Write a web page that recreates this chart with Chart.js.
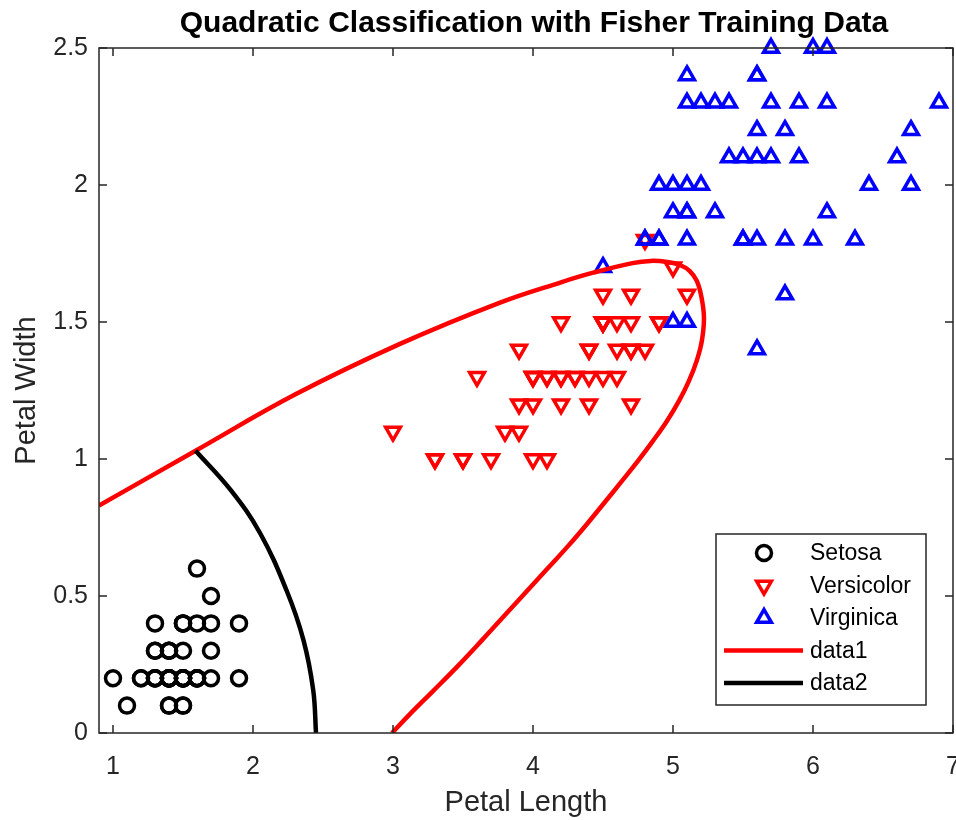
<!DOCTYPE html>
<html>
<head>
<meta charset="utf-8">
<script src="https://cdn.jsdelivr.net/npm/chart.js"></script>
<style>
  html, body { margin: 0; padding: 0; background: #fff; overflow: hidden; }
  #wrap { width: 956px; height: 820px; }
</style>
</head>
<body>
<div id="wrap"><canvas id="myChart" width="956" height="820"></canvas></div>
<script>
// Fisher iris petal measurements
const setosaPL = [1.4,1.4,1.3,1.5,1.4,1.7,1.4,1.5,1.4,1.5,1.5,1.6,1.4,1.1,1.2,1.5,1.3,1.4,1.7,1.5,1.7,1.5,1.0,1.7,1.9,1.6,1.6,1.5,1.4,1.6,1.6,1.5,1.5,1.4,1.5,1.2,1.3,1.4,1.3,1.5,1.3,1.3,1.3,1.6,1.9,1.4,1.6,1.4,1.5,1.4];
const setosaPW = [0.2,0.2,0.2,0.2,0.2,0.4,0.3,0.2,0.2,0.1,0.2,0.2,0.1,0.1,0.2,0.4,0.4,0.3,0.3,0.3,0.2,0.4,0.2,0.5,0.2,0.2,0.4,0.2,0.2,0.2,0.2,0.4,0.1,0.2,0.2,0.2,0.2,0.1,0.2,0.2,0.3,0.3,0.2,0.6,0.4,0.3,0.2,0.2,0.2,0.2];

const versicolorPL = [4.7,4.5,4.9,4.0,4.6,4.5,4.7,3.3,4.6,3.9,3.5,4.2,4.0,4.7,3.6,4.4,4.5,4.1,4.5,3.9,4.8,4.0,4.9,4.7,4.3,4.4,4.8,5.0,4.5,3.5,3.8,3.7,3.9,5.1,4.5,4.5,4.7,4.4,4.1,4.0,4.4,4.6,4.0,3.3,4.2,4.2,4.2,4.3,3.0,4.1];
const versicolorPW = [1.4,1.5,1.5,1.3,1.5,1.3,1.6,1.0,1.3,1.4,1.0,1.5,1.0,1.4,1.3,1.4,1.5,1.0,1.5,1.1,1.8,1.3,1.5,1.2,1.3,1.4,1.4,1.7,1.5,1.0,1.1,1.0,1.2,1.6,1.5,1.6,1.5,1.3,1.3,1.3,1.2,1.4,1.2,1.0,1.3,1.2,1.3,1.3,1.1,1.3];

const virginicaPL = [6.0,5.1,5.9,5.6,5.8,6.6,4.5,6.3,5.8,6.1,5.1,5.3,5.5,5.0,5.1,5.3,5.5,6.7,6.9,5.0,5.7,4.9,6.7,4.9,5.7,6.0,4.8,4.9,5.6,5.8,6.1,6.4,5.6,5.1,5.6,6.1,5.6,5.5,4.8,5.4,5.6,5.1,5.1,5.9,5.7,5.2,5.0,5.2,5.4,5.1];
const virginicaPW = [2.5,1.9,2.1,1.8,2.2,2.1,1.7,1.8,1.8,2.5,2.0,1.9,2.1,2.0,2.4,2.3,1.8,2.2,2.3,1.5,2.3,2.0,2.0,1.8,2.1,1.8,1.8,1.8,2.1,1.6,1.9,2.0,2.2,1.5,1.4,2.3,2.4,1.8,1.8,2.1,2.4,2.3,1.9,2.3,2.5,2.3,1.9,2.0,2.3,1.8];

// decision boundaries
const data1X = [0.9,1.59,2.3,3.05,3.76,4.2,4.43,4.71,4.84,4.96,5.05,5.12,5.17,5.2,5.221,5.207,5.171,5.114,5.043,4.957,4.857,4.75,4.636,4.514,4.386,4.25,4.107,3.957,3.8,3.636,3.464,3.286,3.121,2.993];
const data1Y = [0.83,1.03,1.235,1.42,1.57,1.645,1.68,1.715,1.723,1.719,1.708,1.686,1.65,1.599,1.518,1.434,1.361,1.285,1.212,1.139,1.066,0.993,0.92,0.843,0.763,0.682,0.602,0.518,0.431,0.339,0.245,0.153,0.069,0];
const data2X = [1.59,1.84,2.05,2.24,2.36,2.43,2.45];
const data2Y = [1.03,0.887,0.73,0.52,0.34,0.157,0];

const xTicks = [1,2,3,4,5,6,7];
const yTicks = [0,0.5,1,1.5,2,2.5];
const yTickLabels = ['0','0.5','1','1.5','2','2.5'];

const pts = (xs, ys) => xs.map((x, i) => ({ x: x, y: ys[i] }));

const FONT = '"Liberation Sans", Arial, sans-serif';
const AXIS = '#262626';

// MATLAB style box, inward ticks, title and legend
const matlabBox = {
  id: 'matlabBox',
  afterDraw(chart) {
    const ctx = chart.ctx;
    const a = chart.chartArea;
    const xs = chart.scales.x, ys = chart.scales.y;
    ctx.save();
    ctx.strokeStyle = AXIS;
    ctx.lineWidth = 1.5;
    ctx.strokeRect(a.left, a.top, a.right - a.left, a.bottom - a.top);
    ctx.beginPath();
    xTicks.forEach(v => {
      const px = xs.getPixelForValue(v);
      ctx.moveTo(px, a.bottom); ctx.lineTo(px, a.bottom - 8);
      ctx.moveTo(px, a.top); ctx.lineTo(px, a.top + 8);
    });
    yTicks.forEach(v => {
      const py = ys.getPixelForValue(v);
      ctx.moveTo(a.left, py); ctx.lineTo(a.left + 8, py);
      ctx.moveTo(a.right, py); ctx.lineTo(a.right - 8, py);
    });
    ctx.stroke();

    // title
    ctx.fillStyle = '#000';
    ctx.font = 'bold 30px ' + FONT;
    ctx.textAlign = 'center';
    ctx.textBaseline = 'middle';
    ctx.fillText('Quadratic Classification with Fisher Training Data', 534, 24);

    // legend
    const bx = 716, by = 534, bw = 210, bh = 171;
    ctx.fillStyle = '#fff';
    ctx.fillRect(bx, by, bw, bh);
    ctx.strokeStyle = AXIS;
    ctx.lineWidth = 1.5;
    ctx.strokeRect(bx, by, bw, bh);
    ctx.font = '23px ' + FONT;
    ctx.textAlign = 'left';
    chart.data.datasets.forEach((ds, i) => {
      const cy = by + 19 + i * 32.5;
      const cx = 764;
      ctx.strokeStyle = ds.borderColor;
      ctx.lineWidth = ds.borderWidth;
      if (ds.showLine) {
        ctx.beginPath();
        ctx.moveTo(724, cy); ctx.lineTo(803, cy);
        ctx.stroke();
      } else {
        ctx.fillStyle = 'rgba(0,0,0,0)';
        Chart.helpers.drawPoint(ctx, {
          pointStyle: ds.pointStyle,
          rotation: ds.rotation || 0,
          radius: ds.pointRadius,
          borderWidth: ds.borderWidth
        }, cx, cy);
      }
      ctx.fillStyle = '#000';
      ctx.fillText(ds.label, 810, cy + 1);
    });
    ctx.restore();
  }
};

const markerStyle = (color) => ({
  borderColor: color,
  backgroundColor: 'rgba(0,0,0,0)',
  borderWidth: 3.5,
  showLine: false,
  clip: false
});

new Chart(document.getElementById('myChart'), {
  type: 'scatter',
  data: {
    datasets: [
      Object.assign({ label: 'Setosa', data: pts(setosaPL, setosaPW), pointStyle: 'circle', pointRadius: 7.5, order: 4 }, markerStyle('#000000')),
      Object.assign({ label: 'Versicolor', data: pts(versicolorPL, versicolorPW), pointStyle: 'triangle', rotation: 180, pointRadius: 8.5, order: 3 }, markerStyle('#ff0000')),
      Object.assign({ label: 'Virginica', data: pts(virginicaPL, virginicaPW), pointStyle: 'triangle', pointRadius: 8.5, order: 2 }, markerStyle('#0000ff')),
      { label: 'data1', data: pts(data1X, data1Y), showLine: true, borderColor: '#ff0000', borderWidth: 4.5, pointRadius: 0, tension: 0.4, order: 1 },
      { label: 'data2', data: pts(data2X, data2Y), showLine: true, borderColor: '#000000', borderWidth: 4.5, pointRadius: 0, tension: 0.4, order: 0 }
    ]
  },
  options: {
    responsive: false,
    animation: false,
    devicePixelRatio: 1,
    layout: { autoPadding: false, padding: { left: 0, right: 3, top: 48, bottom: 0 } },
    plugins: {
      legend: { display: false },
      title: { display: false },
      tooltip: { enabled: false }
    },
    elements: { point: { hoverRadius: 7 } },
    scales: {
      x: {
        type: 'linear',
        min: 0.9,
        max: 7,
        afterBuildTicks: s => { s.ticks = xTicks.map(v => ({ value: v })); },
        afterFit: s => { s.height = 87; s.paddingLeft = 0; s.paddingRight = 0; },
        grid: { display: false, drawTicks: false },
        border: { display: false },
        ticks: { color: AXIS, font: { family: FONT, size: 25 }, padding: 19 },
        title: { display: true, text: 'Petal Length', color: AXIS, font: { family: FONT, size: 29 }, padding: { top: 0, bottom: 0 } }
      },
      y: {
        type: 'linear',
        min: 0,
        max: 2.5,
        afterBuildTicks: s => { s.ticks = yTicks.map(v => ({ value: v })); },
        afterFit: s => { s.width = 99; s.paddingTop = 0; s.paddingBottom = 0; },
        grid: { display: false, drawTicks: false },
        border: { display: false },
        ticks: {
          color: AXIS, font: { family: FONT, size: 25 }, padding: 11,
          callback: (v) => yTickLabels[yTicks.indexOf(v)]
        },
        title: { display: true, text: 'Petal Width', color: AXIS, font: { family: FONT, size: 29 }, padding: { top: 10, bottom: 0 } }
      }
    }
  },
  plugins: [matlabBox]
});
</script>
</body>
</html>
